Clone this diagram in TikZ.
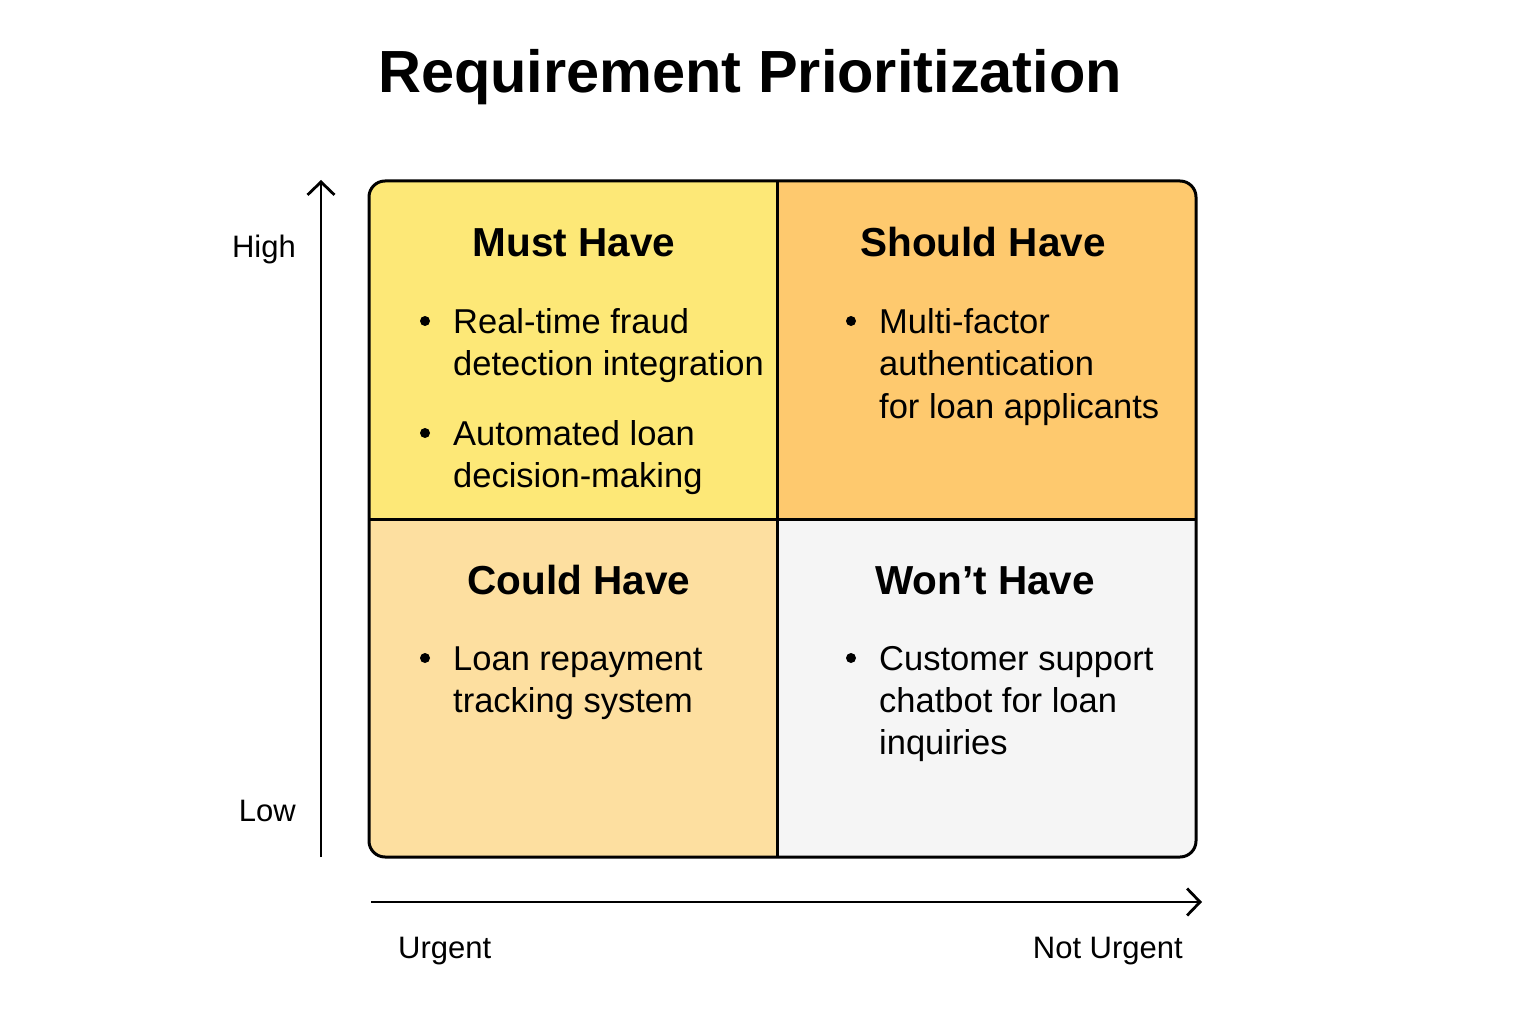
\documentclass[tikz,border=0pt]{standalone}
\usepackage{fontspec}
\setmainfont{Liberation Sans}
\usetikzlibrary{arrows.meta}
\definecolor{musty}{HTML}{FDE877}
\definecolor{shouldo}{HTML}{FEC96E}
\definecolor{couldo}{HTML}{FDDFA0}
\definecolor{wontg}{HTML}{F5F5F5}
\tikzset{
  bodytxt/.style={anchor=base west, inner sep=0pt, font=\fontsize{34.5}{42}\selectfont},
  headtxt/.style={anchor=base, inner sep=0pt, font=\fontsize{40.5}{48}\selectfont\bfseries},
  axtxt/.style={inner sep=0pt, font=\fontsize{31}{38}\selectfont},
  axisline/.style={line width=2.8pt, -{Straight Barb[length=13pt,width=27pt,line width=2.8pt]}},
  bul/.style={fill=black},
}
\begin{document}
\begin{tikzpicture}[x=1pt,y=-1pt]
\useasboundingbox (0,0) rectangle (1536,1024);
\fill[white] (0,0) rectangle (1536,1024);
% title
\node[anchor=base, inner sep=0pt, font=\fontsize{59.5}{70}\selectfont\bfseries] (title) at (750,93) {Requirement Prioritization};
% quadrant fills
\begin{scope}
\clip[rounded corners=16pt] (369,181) rectangle (1196,857);
\fill[musty] (369,181) rectangle (777,519);
\fill[shouldo] (777,181) rectangle (1196,519);
\fill[couldo] (369,519) rectangle (777,857);
\fill[wontg] (777,519) rectangle (1196,857);
\end{scope}
\draw[line width=3pt, rounded corners=16pt] (369,181) rectangle (1196,857);
\draw[line width=3pt] (777,181) -- (777,857);
\draw[line width=3pt] (369,519) -- (1196,519);
% headers
\node[headtxt] (must) at (574,257) {Must Have};
\node[headtxt] (should) at (983,257) {Should Have};
\node[headtxt] (could) at (579,594) {Could Have};
\node[headtxt] (wont) at (985,594) {Won’t Have};
% must have items
\fill[bul] (425,321) circle (5pt);
\node[bodytxt] (m1) at (453,333) {Real-time fraud};
\node[bodytxt] (m2) at (453,375) {detection integration};
\fill[bul] (425,433) circle (5pt);
\node[bodytxt] (m3) at (453,445) {Automated loan};
\node[bodytxt] (m4) at (453,487) {decision-making};
% should have
\fill[bul] (851,321) circle (5pt);
\node[bodytxt] (s1) at (879,333) {Multi-factor};
\node[bodytxt] (s2) at (879,375) {authentication};
\node[bodytxt] (s3) at (879,418) {for loan applicants};
% could have
\fill[bul] (425,658) circle (5pt);
\node[bodytxt] (c1) at (453,670) {Loan repayment};
\node[bodytxt] (c2) at (453,712) {tracking system};
% wont have
\fill[bul] (851,658) circle (5pt);
\node[bodytxt] (w1) at (879,670) {Customer support};
\node[bodytxt] (w2) at (879,712) {chatbot for loan};
\node[bodytxt] (w3) at (879,754) {inquiries};
% axes
\coordinate (yb) at (321,857);
\coordinate (yt) at (321,180);
\coordinate (xb) at (371,902);
\coordinate (xt) at (1202,902);
\draw[axisline] (yb) -- (yt);
\draw[axisline] (xb) -- (xt);
\node[axtxt, anchor=base east] (high) at (296,258) {High};
\node[axtxt, anchor=base east] (low) at (296,821) {Low};
\node[axtxt, anchor=base west] (urgent) at (398,958) {Urgent};
\node[axtxt, anchor=base east] (noturgent) at (1183,958) {Not Urgent};
\end{tikzpicture}
\end{document}
